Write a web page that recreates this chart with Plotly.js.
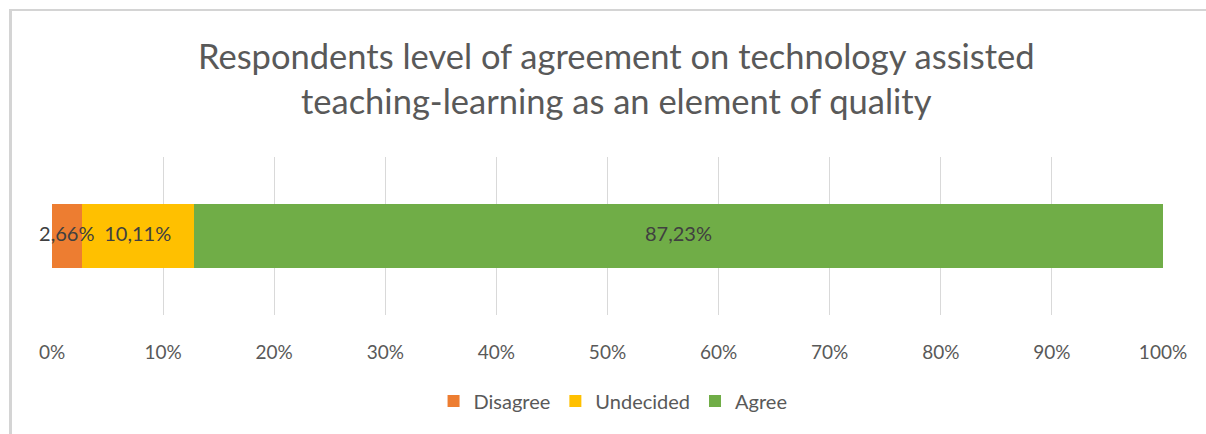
<!DOCTYPE html>
<html>
<head>
<meta charset="utf-8">
<script src="https://cdn.plot.ly/plotly-3.0.1.min.js"></script>
<style>
  html, body { margin: 0; padding: 0; background: #ffffff; overflow: hidden; }
  #wrap { position: relative; width: 1206px; height: 434px; overflow: hidden; }
  #chart { position: absolute; left: 0; top: 0; width: 1206px; height: 434px; }
  #frame { position: absolute; left: 9px; top: 9px; width: 1300px; height: 500px;
           border-top: 2px solid #d4d4d4; border-left: 3px solid #d4d4d4; pointer-events: none; }
</style>
</head>
<body>
<div id="wrap">
  <div id="chart"></div>
  <div id="frame"></div>
</div>
<script>
const categories = ["Respondents"];
const seriesNames = ["Disagree", "Undecided", "Agree"];
const disagree = [2.66];
const undecided = [10.11];
const agree = [87.23];
const seriesColors = ["#ED7D31", "#FFC000", "#70AD47"];
const tickValues = [0, 10, 20, 30, 40, 50, 60, 70, 80, 90, 100];
const tickLabels = ["0%", "10%", "20%", "30%", "40%", "50%", "60%", "70%", "80%", "90%", "100%"];

const values = [disagree, undecided, agree];
const FONT = "Lato, 'Open Sans', sans-serif";

const barTraces = seriesNames.map((name, i) => ({
  type: "bar",
  orientation: "h",
  name: name,
  y: categories,
  x: values[i],
  width: 0.41,
  marker: { color: seriesColors[i] },
  hoverinfo: "x+name"
}));

// Data labels drawn on top of all bars (centre of each stacked segment)
const labelX = [], labelY = [], labelVals = [];
categories.forEach((cat, c) => {
  let start = 0;
  values.forEach(series => {
    const v = series[c];
    labelX.push(start + v / 2);
    labelY.push(cat);
    labelVals.push(v);
    start += v;
  });
});

const labelTrace = {
  type: "scatter",
  mode: "text",
  x: labelX,
  y: labelY,
  customdata: labelVals,
  texttemplate: "%{customdata:.2f}%",
  textposition: "middle center",
  textfont: { family: FONT, size: 20, color: "#404040" },
  cliponaxis: false,
  showlegend: false,
  hoverinfo: "skip"
};

const layout = {
  width: 1206,
  height: 434,
  separators: ", ",
  paper_bgcolor: "#ffffff",
  plot_bgcolor: "#ffffff",
  margin: { l: 52, r: 43, t: 157, b: 119, pad: 0 },
  barmode: "stack",
  font: { family: FONT, color: "#595959" },
  title: {
    text: "Respondents level of agreement on technology assisted<br>teaching-learning as an element of quality",
    font: { family: FONT, size: 34.5, color: "#595959" },
    x: 0.511, xanchor: "center",
    y: 0.84, yanchor: "middle"
  },
  xaxis: {
    range: [0, 100],
    tickmode: "array",
    tickvals: tickValues,
    ticktext: tickLabels,
    showgrid: true,
    gridcolor: "#d9d9d9",
    gridwidth: 1,
    zeroline: false,
    showline: false,
    ticks: "",
    ticklabelstandoff: 24,
    tickfont: { family: FONT, size: 19, color: "#595959" },
    fixedrange: true
  },
  yaxis: {
    range: [-0.5, 0.5],
    showticklabels: false,
    showgrid: false,
    zeroline: false,
    showline: false,
    ticks: "",
    fixedrange: true
  },
  showlegend: true,
  legend: {
    orientation: "h",
    traceorder: "normal",
    x: 0.505, xanchor: "center",
    y: -0.544, yanchor: "middle",
    font: { family: FONT, size: 20, color: "#595959" },
    bgcolor: "rgba(0,0,0,0)"
  }
};

Plotly.newPlot("chart", barTraces.concat([labelTrace]), layout, { displayModeBar: false, staticPlot: true });
</script>
</body>
</html>
